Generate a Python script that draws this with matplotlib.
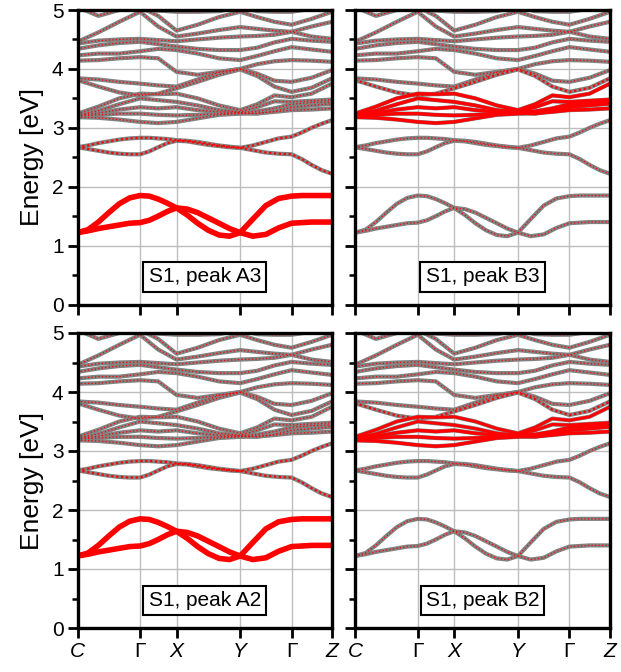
import matplotlib
matplotlib.use("Agg")
import matplotlib.pyplot as plt
import numpy as np

plt.rcParams['font.family'] = ['Liberation Sans', 'DejaVu Sans']

# ---------------- data ----------------
kpath_labels = ['C', 'Γ', 'X', 'Y', 'Γ', 'Z']
kpath_pos = [0.0, 0.246, 0.389, 0.639, 0.841, 1.0]

# fine k grid for the four lowest bands
k_fine = [0.0, 0.041, 0.082, 0.123, 0.164, 0.205, 0.246,
          0.282, 0.317, 0.353, 0.389,
          0.431, 0.472, 0.514, 0.556, 0.597, 0.639,
          0.689, 0.740, 0.790, 0.841,
          0.881, 0.920, 0.960, 1.0]

band_a = [1.22, 1.27, 1.40, 1.56, 1.71, 1.81, 1.85,
          1.84, 1.79, 1.72, 1.64,
          1.52, 1.38, 1.26, 1.18, 1.16, 1.22,
          1.45, 1.68, 1.80, 1.84,
          1.85, 1.85, 1.85, 1.85]
band_b = [1.22, 1.25, 1.29, 1.32, 1.35, 1.38, 1.39,
          1.43, 1.50, 1.58, 1.64,
          1.62, 1.56, 1.47, 1.38, 1.29, 1.22,
          1.16, 1.19, 1.30, 1.38,
          1.39, 1.40, 1.40, 1.40]
band_c = [2.67, 2.70, 2.74, 2.77, 2.80, 2.82, 2.83,
          2.83, 2.82, 2.81, 2.79,
          2.78, 2.76, 2.73, 2.70, 2.68, 2.66,
          2.70, 2.76, 2.82, 2.85,
          2.92, 3.00, 3.07, 3.13]
band_d = [2.67, 2.64, 2.61, 2.58, 2.56, 2.55, 2.55,
          2.60, 2.67, 2.74, 2.78,
          2.77, 2.74, 2.71, 2.69, 2.67, 2.66,
          2.62, 2.58, 2.56, 2.55,
          2.47, 2.37, 2.28, 2.22]

# coarse k grid for the upper bands
k_coarse = [0.0, 0.082, 0.164, 0.246, 0.317, 0.389, 0.472, 0.556,
            0.639, 0.706, 0.774, 0.841, 0.920, 1.0]

band_05 = [3.18, 3.17, 3.14, 3.10, 3.08, 3.10, 3.16, 3.22, 3.24, 3.25, 3.27, 3.30, 3.31, 3.33]
band_06 = [3.20, 3.22, 3.24, 3.24, 3.22, 3.21, 3.22, 3.24, 3.25, 3.24, 3.28, 3.35, 3.38, 3.41]
band_07 = [3.21, 3.25, 3.31, 3.35, 3.33, 3.35, 3.30, 3.27, 3.26, 3.28, 3.33, 3.40, 3.43, 3.44]
band_08 = [3.22, 3.29, 3.40, 3.50, 3.47, 3.44, 3.38, 3.30, 3.27, 3.35, 3.45, 3.44, 3.46, 3.48]
band_09 = [3.24, 3.36, 3.50, 3.58, 3.57, 3.58, 3.50, 3.38, 3.30, 3.40, 3.55, 3.52, 3.58, 3.75]
band_10 = [3.81, 3.70, 3.60, 3.55, 3.58, 3.67, 3.78, 3.90, 3.99, 3.88, 3.70, 3.61, 3.68, 3.84]
band_11 = [3.84, 3.82, 3.78, 3.75, 3.72, 3.70, 3.82, 3.94, 4.00, 3.92, 3.80, 3.78, 3.85, 3.98]
band_12 = [4.14, 4.15, 4.18, 4.20, 4.18, 3.95, 3.90, 3.95, 4.00, 4.08, 4.13, 4.15, 4.14, 4.12]
band_13 = [4.23, 4.26, 4.26, 4.30, 4.34, 4.32, 4.26, 4.18, 4.15, 4.22, 4.30, 4.37, 4.33, 4.29]
band_14 = [4.34, 4.40, 4.44, 4.46, 4.42, 4.38, 4.34, 4.32, 4.32, 4.36, 4.45, 4.51, 4.48, 4.46]
band_15 = [4.43, 4.48, 4.50, 4.51, 4.49, 4.47, 4.50, 4.53, 4.55, 4.56, 4.58, 4.63, 4.55, 4.51]
band_16 = [4.46, 4.62, 4.80, 4.97, 4.72, 4.55, 4.60, 4.66, 4.71, 4.68, 4.65, 4.63, 4.72, 4.80]
band_17 = [5.05, 4.90, 5.00, 5.05, 4.90, 4.65, 4.75, 4.88, 4.97, 4.88, 4.80, 4.75, 4.85, 4.97]
band_18 = [5.15, 5.08, 5.02, 5.00, 4.99, 4.97, 4.97, 4.98, 5.05, 4.98, 4.97, 4.97, 5.02, 5.10]

low_bands = [band_a, band_b, band_c, band_d]
high_bands = [band_05, band_06, band_07, band_08, band_09, band_10, band_11,
              band_12, band_13, band_14, band_15, band_16, band_17, band_18]

# projection weights (per band) for each panel: low bands a-d then bands 5-18
weights_A3 = [1.0, 1.0, 0.3, 0.3] + [0.05] * 14
weights_B3 = [0.05, 0.05, 0.05, 0.05] + [0.8, 0.8, 0.8, 0.8, 0.8, 0.3] + [0.05] * 8
weights_A2 = [1.0, 1.0, 0.3, 0.3] + [0.05] * 14
weights_B2 = [0.05, 0.05, 0.05, 0.05] + [0.8, 0.8, 0.8, 0.7, 0.7, 0.3] + [0.05] * 8

panel_titles = ['S1, peak A3', 'S1, peak B3', 'S1, peak A2', 'S1, peak B2']
panel_weights = [weights_A3, weights_B3, weights_A2, weights_B2]

# ---------------- figure ----------------
W, H = 621, 672
fig = plt.figure(figsize=(W / 100, H / 100), dpi=100)

def frac(x0, y0, x1, y1):
    return [x0 / W, 1 - y1 / H, (x1 - x0) / W, (y1 - y0) / H]

rects = [frac(77.5, 10, 332, 304.5), frac(355, 10, 610, 304.5),
         frac(77.5, 333, 332, 628), frac(355, 333, 610, 628)]

grey = '#828282'
red = '#ff0000'

for i, (rect, title, wts) in enumerate(zip(rects, panel_titles, panel_weights)):
    ax = fig.add_axes(rect)
    bands = [(k_fine, b) for b in low_bands] + [(k_coarse, b) for b in high_bands]
    for kk, ee in bands:
        ax.plot(kk, ee, color=grey, lw=3.0, solid_capstyle='round',
                solid_joinstyle='round', zorder=3)
    order = np.argsort(wts)
    for j in order:
        kk, ee = bands[j]
        w = wts[j]
        if w >= 0.9:
            ax.plot(kk, ee, color=red, lw=4.0, solid_capstyle='round',
                    solid_joinstyle='round', zorder=5)
        elif w >= 0.5:
            ax.plot(kk, ee, color=red, lw=3.0 * w, solid_capstyle='round',
                    solid_joinstyle='round', zorder=5)
        elif w >= 0.2:
            ax.plot(kk, ee, color=red, lw=1.6, ls=(0, (1, 1.2)), zorder=4)
        else:
            ax.plot(kk, ee, color=red, lw=0.9, ls=(0, (1, 1.8)), zorder=4)

    ax.set_xlim(0, 1)
    ax.set_ylim(0, 5)
    ax.set_xticks(kpath_pos)
    ax.set_yticks([0, 1, 2, 3, 4, 5])
    ax.set_yticks(np.arange(0.5, 5, 1.0), minor=True)
    ax.grid(True, which='major', color='#bdbdbd', lw=1.0, zorder=0)
    ax.set_axisbelow(True)
    for sp in ax.spines.values():
        sp.set_linewidth(2.4)
        sp.set_zorder(10)
    ax.tick_params(axis='both', which='major', direction='out', length=7, width=2.0,
                   labelsize=15, pad=3)
    ax.tick_params(axis='y', which='minor', direction='out', length=4.5, width=1.8)
    ax.tick_params(axis='x', which='minor', bottom=False)

    if i % 2 == 0:
        ax.set_ylabel('Energy [eV]', fontsize=19, labelpad=6)
    else:
        ax.set_yticklabels([])
    if i >= 2:
        ax.set_xticklabels(kpath_labels)
        for lab in ax.get_xticklabels():
            if lab.get_text() != 'Γ':
                lab.set_fontstyle('italic')
    else:
        ax.set_xticklabels([])

    ax.text(0.5, 0.47, title, ha='center', va='center', fontsize=15, zorder=20,
            bbox=dict(boxstyle='square,pad=0.25', facecolor='white',
                      edgecolor='black', lw=1.5))

fig.savefig('out.png', dpi=100)
